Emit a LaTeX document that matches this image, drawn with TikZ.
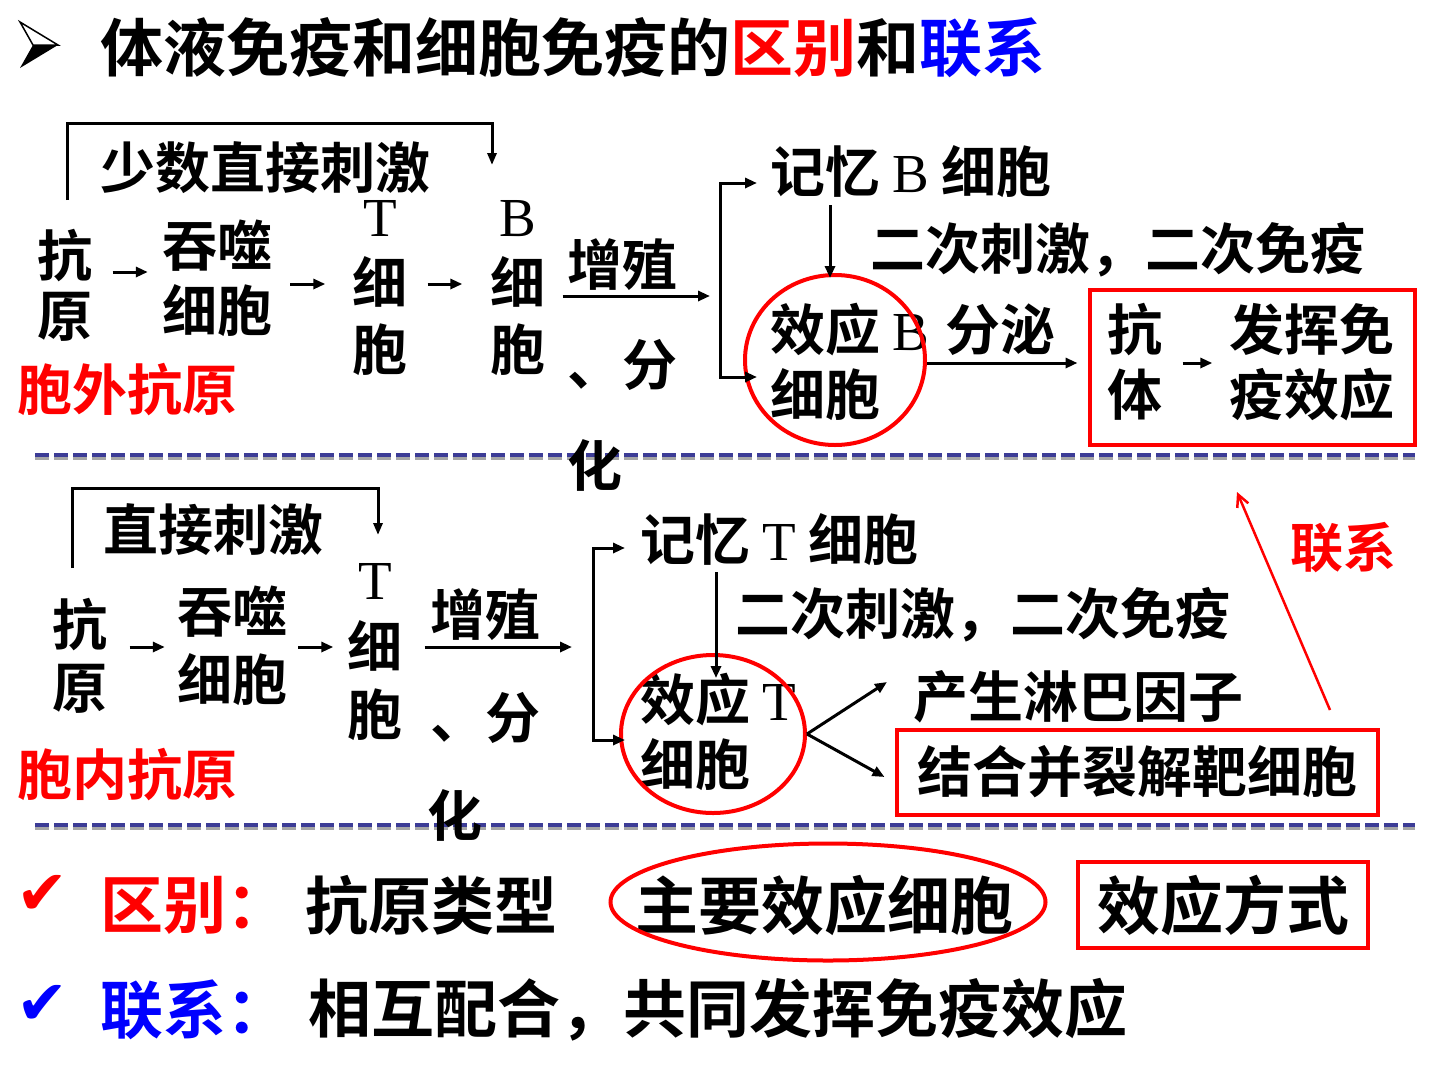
\documentclass[tikz,border=0pt]{standalone}
\usepackage{fontspec}
\setmainfont{Noto Sans CJK SC}[BoldFont={Noto Sans CJK SC Bold}]
\newfontfamily\lat{Liberation Serif}
\newfontfamily\sym{DejaVu Sans}
\usetikzlibrary{arrows.meta,calc,shapes.geometric}
\definecolor{pred}{RGB}{255,0,0}
\definecolor{pblue}{RGB}{0,0,255}
\definecolor{dashblue}{RGB}{60,60,150}
\newcommand{\Lt}[1]{{\lat\mdseries #1}\vphantom{细}}
\newcommand{\Sp}{\hspace{0.22em}}
\newcommand{\fs}[2]{\fontsize{#1}{#2}\selectfont\bfseries}
\tikzset{
  txt/.style={inner sep=0pt, align=center, font=\fs{55}{62}},
  arr/.style={line width=3pt, -{Triangle[length=12pt,width=10pt]}},
  brk/.style={line width=3pt, -{Triangle[length=12pt,width=9pt]}},
  redell/.style={ellipse, draw=pred, line width=4pt, inner sep=0pt},
  redbox/.style={draw=pred, line width=4pt},
  redarr/.style={draw=pred, line width=2.5pt, -{Straight Barb[length=12pt,width=12pt]}},
  sepline/.style={draw=dashblue, line width=3.5pt, dash pattern=on 14pt off 5pt},
  sepshadow/.style={draw=gray!70, line width=3pt, dash pattern=on 14pt off 5pt},
  chk/.style={inner sep=0pt, font=\sym\fontsize{62}{62}\selectfont}
}
\begin{document}
\begin{tikzpicture}[x=1pt,y=-1pt]
\fill[white] (0,0) rectangle (1440,1080);
\useasboundingbox (0,0) rectangle (1440,1080);

% separators
\draw[sepshadow] (35,458) -- (1415,458);
\draw[sepline] (35,455) -- (1415,455);
\draw[sepshadow] (35,828) -- (1415,828);
\draw[sepline] (35,825) -- (1415,825);

% title bullet (3-D arrowhead)
\draw[line width=1.5pt, line join=miter] (20,22) -- (58,45) -- (33,45) -- cycle;
\fill (33,45) -- (58,45) -- (20,68) -- cycle;
\node[anchor=west, inner sep=0pt, font=\fs{63}{63}] (title) at (100,48)
  {体液免疫和细胞免疫的\textcolor{pred}{区别}和\textcolor{pblue}{联系}};

% ---------- row 1 ----------
\node[txt, font=\fs{55}{60}] (k1) at (65,285) {抗\\原};
\node[txt, font=\fs{55}{65}] (t1) at (217,278) {吞噬\\细胞};
\node[txt, font=\fs{55}{67}] (T1) at (380,283) {\Lt{T}\\细\\胞};
\node[txt, font=\fs{55}{67}] (B1) at (518,283) {\Lt{B}\\细\\胞};
\node[txt] (z1) at (622,265) {增殖};
\node[txt] (f1) at (622,365) {、分};
\node[txt] (h1) at (595,465) {化};
\node[txt, anchor=west] (mB) at (770,172) {记忆\Sp{}\Lt{B}\Sp{}细胞};
\node[txt, anchor=west] (s1) at (870,250) {二次刺激，二次免疫};
\node[txt, anchor=west, align=left, font=\fs{55}{65}] (eB) at (770,362) {效应\Sp{}\Lt{B}\\细胞};
\node[redell, minimum width=180pt, minimum height=170pt] (cB) at (835,360) {};
\node[txt] (fm) at (1000,330) {分泌};
\node[redbox, minimum width=325pt, minimum height=155pt] (rb1) at (1252,367) {};
\node[txt, font=\fs{55}{65}] (ab) at (1135,362) {抗\\体};
\node[txt, font=\fs{55}{65}] (fx) at (1312,362) {发挥免\\疫效应};
\node[txt, anchor=west, text=pred] (wai) at (17,390) {胞外抗原};
\node[txt, anchor=west] (lab1) at (100,168) {少数直接刺激};
\coordinate (j1) at (720,296);

\draw[brk] ($(k1.center)+(2,-85)$) -- ++(0,-77) -| ($(B1.center)+(-26,-118)$);
\draw[arr] ($(k1.east)+(20,-13)$) -- ($(t1.west)+(-14,-6)$);
\draw[arr] ($(t1.east)+(18,6)$) -- ($(T1.west)+(-27,1)$);
\draw[arr] ($(T1.east)+(20,1)$) -- ($(B1.west)+(-28,1)$);
\draw[arr] ($(B1.east)+(17,13)$) -- ($(j1)+(-10,0)$);
\draw[arr] (j1) |- ($(mB.west)+(-13,11)$);
\draw[arr] (j1) |- ($(eB.west)+(-13,15)$);
\draw[arr] ($(mB.west)+(60,33)$) -- ($(cB.north)+(-5,5)$);
\draw[arr] ($(cB.east)+(0,3)$) -- ($(rb1.west)+(-10,-4)$);
\draw[arr] ($(ab.east)+(20,1)$) -- ($(fx.west)+(-17,1)$);

% ---------- row 2 ----------
\node[txt, font=\fs{55}{63}] (k2) at (80,656) {抗\\原};
\node[txt, font=\fs{55}{68}] (t2) at (232,646) {吞噬\\细胞};
\node[txt, font=\fs{55}{68}] (T2) at (375,647) {\Lt{T}\\细\\胞};
\node[txt] (z2) at (485,615) {增殖};
\node[txt] (f2) at (485,718) {、分};
\node[txt] (h2) at (455,815) {化};
\node[txt, anchor=west] (mT) at (640,540) {记忆\Sp{}\Lt{T}\Sp{}细胞};
\node[txt, anchor=west] (s2) at (735,615) {二次刺激，二次免疫};
\node[txt, anchor=west, align=left, font=\fs{55}{65}] (eT) at (640,732) {效应\Sp{}\Lt{T}\\细胞};
\node[redell, minimum width=184pt, minimum height=158pt] (cT) at (713,734) {};
\node[txt, anchor=west] (ly) at (913,697) {产生淋巴因子};
\node[txt, redbox, minimum width=481pt, minimum height=85pt] (jh) at (1137,772) {结合并裂解靶细胞};
\node[txt, anchor=west, text=pred, font=\fs{53}{53}] (lx) at (1290,548) {联系};
\node[txt, anchor=west, text=pred] (nei) at (17,775) {胞内抗原};
\node[txt, anchor=west] (lab2) at (103,530) {直接刺激};
\coordinate (j2) at (593,647);
\coordinate (la) at (1330,710);
\coordinate (lb) at (1237,492);

\draw[brk] ($(k2.center)+(-8,-88)$) -- ++(0,-80) -| ($(T2.center)+(3,-112)$);
\draw[arr] ($(k2.east)+(22,-9)$) -- ($(t2.west)+(-12,1)$);
\draw[arr] ($(t2.east)+(11,1)$) -- ($(T2.west)+(-14,0)$);
\draw[arr] ($(T2.east)+(22,0)$) -- ($(j2)+(-21,0)$);
\draw[arr] (j2) |- ($(mT.west)+(-15,8)$);
\draw[arr] (j2) |- ($(eT.west)+(-15,8)$);
\draw[arr] ($(mT.west)+(76,32)$) -- ($(cT.north)+(3,25)$);
\draw[arr] (cT.east) -- ($(ly.west)+(-26,-15)$);
\draw[arr] (cT.east) -- ($(jh.west)+(-10,5)$);
\draw[redarr] (la) -- (lb);

% ---------- bottom ----------
\node[chk, text=pred] (ck1) at (42,895) {✔};
\node[txt, anchor=west, font=\fs{63}{63}, text=pred] (qb) at (100,905) {区别：};
\node[txt, anchor=west, font=\fs{63}{63}] (yl) at (305,905) {抗原类型};
\node[txt, anchor=west, font=\fs{63}{63}] (zy) at (635,905) {主要效应细胞};
\node[redell, minimum width=435pt, minimum height=117pt] (cz) at (828,902) {};
\node[txt, font=\fs{63}{63}, redbox, minimum width=290pt, minimum height=86pt] (xy) at (1223,905) {效应方式};
\node[chk, text=pblue] (ck2) at (42,1005) {✔};
\node[txt, anchor=west, font=\fs{63}{63}, text=pblue] (lx2) at (100,1010) {联系：};
\node[txt, anchor=west, font=\fs{63}{63}] (xh) at (308,1010) {相互配合，共同发挥免疫效应};
\end{tikzpicture}
\end{document}
